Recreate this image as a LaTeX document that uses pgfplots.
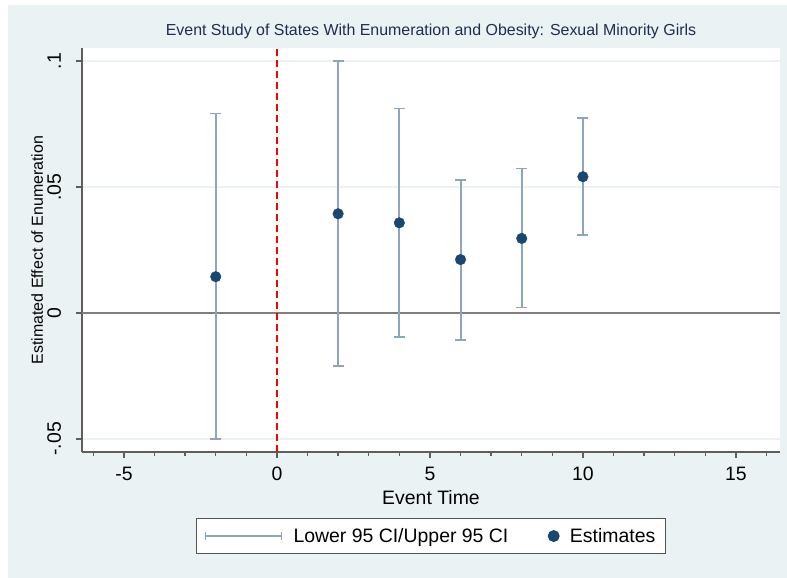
\documentclass[border=0pt]{standalone}
\usepackage{pgfplots}
\pgfplotsset{compat=1.18}
\usepackage{pgfplotstable}
\usepackage{fontspec}
\setmainfont{Liberation Sans}
\definecolor{bgc}{HTML}{EAF2F3}
\definecolor{gridc}{HTML}{EAF2F3}
\definecolor{axisc}{HTML}{5E5E5E}
\definecolor{zeroc}{HTML}{7F7F7F}
\definecolor{cibar}{HTML}{8CA5C0}
\definecolor{navy}{HTML}{1A476F}
\definecolor{titc}{HTML}{1F2E4D}
\definecolor{legc}{HTML}{555555}

% event time, estimate, lower and upper 95 CI
\pgfplotstableread{
t   b       lo       hi
-2  0.0144  -0.0501  0.0792
2   0.0394  -0.0210  0.1001
4   0.0358  -0.0095  0.0812
6   0.0212  -0.0107  0.0529
8   0.0296   0.0022  0.0573
10  0.0541   0.0310  0.0775
}\est

\begin{document}
\begin{tikzpicture}
\useasboundingbox (0,0) rectangle (787bp,-578bp);
\fill[white] (0,0) rectangle (787bp,-578bp);
\fill[bgc] (8bp,-5bp) rectangle (787bp,-578bp);
\begin{axis}[
    at={(82bp,-48bp)}, anchor=north west,
    width=698bp, height=404bp, scale only axis,
    xmin=-6.37, xmax=16.44, ymin=-0.0552, ymax=0.1052,
    axis lines*=left,
    axis line style={axisc, line width=1.3bp},
    axis background/.style={fill=white},
    tick align=outside,
    major tick length=6bp, minor tick length=4bp,
    tick style={axisc, line width=1.3bp},
    xtick={-5,0,5,10,15}, xticklabels={-5,0,5,10,15},
    minor xtick={-6,-4,-3,-2,-1,1,2,3,4,6,7,8,9,11,12,13,14,16},
    ytick={-0.05,0,0.05,0.1}, yticklabels={-.05,0,.05,.1},
    ymajorgrids, grid style={gridc, line width=1.4bp},
    xticklabel style={font=\fontsize{19.5}{22}\selectfont, anchor=base, yshift=-22bp},
    yticklabel style={font=\fontsize{19.5}{22}\selectfont, xshift=-15bp, rotate=90, anchor=base},
    xlabel={Event Time},
    xlabel style={font=\fontsize{19.5}{22}\selectfont, at={(axis description cs:0.5,-0.1287)}, anchor=base},
    ylabel={Estimated Effect of Enumeration},
    ylabel style={font=\fontsize{16}{19}\selectfont, at={(axis description cs:-0.0559,0.5)}, rotate=0, anchor=base},
    title={Event Study of States With Enumeration and Obesity: Sexual Minority Girls},
    title style={font=\fontsize{16}{19}\selectfont, text=titc, at={(axis description cs:0.5,1.0173)}, anchor=base},
    legend columns=2,
    legend cell align=left,
    legend style={at={(axis description cs:0.5,-0.208)}, anchor=center,
        draw=legc, line width=1.3bp, fill=white,
        font=\fontsize{19.5}{22}\selectfont,
        inner xsep=8bp, inner ysep=7.5bp,
        /tikz/every odd column/.append style={column sep=9bp},
        /tikz/every even column/.append style={column sep=38bp}},
]
\addplot[forget plot, zeroc, line width=1.5bp] coordinates {(-6.37,0) (16.44,0)};
\addplot[forget plot, red, line width=1.8bp, dash pattern=on 7bp off 4bp] coordinates {(0,-0.0552) (0,0.1052)};
\addplot[draw=none, mark=none,
    error bars/.cd, y dir=both, y explicit,
    error bar style={draw=cibar, line width=2bp},
    error mark options={draw=cibar, line width=1.6bp, mark size=5.5bp, rotate=90},
    /pgfplots/legend image code/.code={
        \draw[draw=cibar, line width=1.8bp] (0bp,0bp) -- (76bp,0bp);
        \draw[draw=cibar, line width=1.4bp] (0bp,-4bp) -- (0bp,4bp);
        \draw[draw=cibar, line width=1.4bp] (76bp,-4bp) -- (76bp,4bp);
    }]
    table[x=t, y=b, y error plus expr=\thisrow{hi}-\thisrow{b}, y error minus expr=\thisrow{b}-\thisrow{lo}] {\est};
\addlegendentry{Lower 95 CI/Upper 95 CI}
\addplot[only marks, mark=*, mark size=5.3bp, mark options={fill=navy, draw=navy}]
    table[x=t, y=b] {\est};
\addlegendentry{Estimates}
\end{axis}
\end{tikzpicture}
\end{document}
